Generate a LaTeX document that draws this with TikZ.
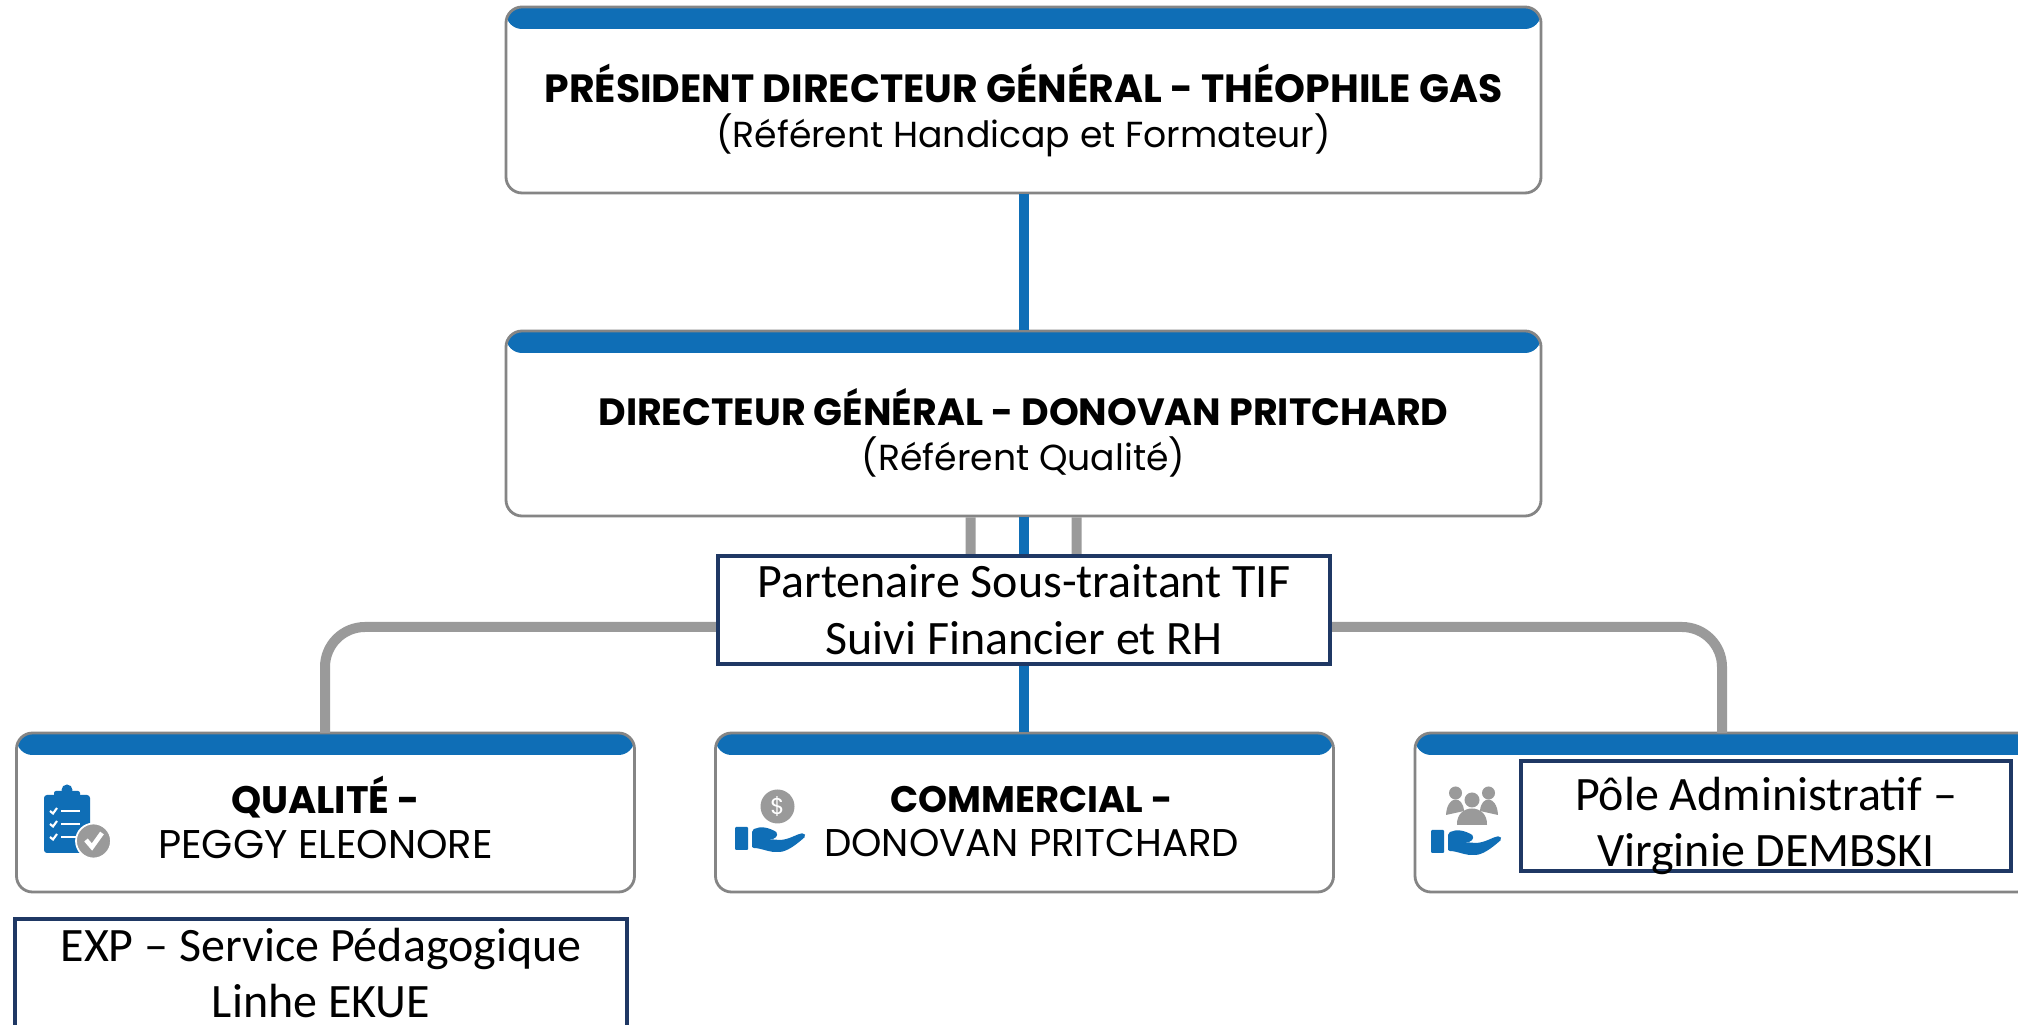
\documentclass[tikz,border=0pt]{standalone}
\usepackage{fontspec}
\setmainfont{Poppins}
\newfontfamily\notefont{Carlito}
\usepackage{xcolor}
\usetikzlibrary{calc}
\usetikzlibrary{positioning}
\definecolor{bandblue}{HTML}{0F6EB6}
\definecolor{railgray}{HTML}{9A9A9A}
\definecolor{edgegray}{HTML}{858585}
\definecolor{notenavy}{HTML}{1F3864}
\newcommand{\capsize}[1]{\fontsize{#1}{12.8pt}\selectfont}
\tikzset{
	card/.style={draw=edgegray,line width=0.8pt,fill=white,rounded corners=0.16cm,minimum width=#1,minimum height=1.59cm,inner sep=0,
		path picture={\fill[bandblue] (path picture bounding box.north west) rectangle ($(path picture bounding box.north east)+(0,-0.22)$);}},
	cardtext/.style={align=center,inner sep=0,font=\capsize{11.2pt},text=black},
	notetext/.style={inner sep=0,align=center,font=\notefont\fontsize{13.65pt}{16.2pt}\selectfont,text=black},
	note/.style={draw=notenavy,line width=1.3pt,fill=white,notetext},
	bluerail/.style={bandblue,line width=0.1cm},
	grayrail/.style={railgray,line width=0.1cm,rounded corners=0.4cm},
	handicon/.pic={
		\fill[bandblue,rounded corners=0.01cm] (0,0.02) rectangle (0.13,0.25);
		\fill[bandblue,rounded corners=0.02cm] (0.17,0.04) -- (0.17,0.22) .. controls (0.25,0.26) and (0.33,0.25) .. (0.43,0.19) -- (0.40,0.13) -- (0.32,0.13) -- (0.45,0.12) .. controls (0.55,0.13) and (0.62,0.18) .. (0.69,0.19) -- (0.71,0.16) .. controls (0.62,0.08) and (0.52,0) .. (0.42,0) .. controls (0.34,0) and (0.25,0.04) .. (0.17,0.04) -- cycle;
	},
	clipicon/.pic={
		\fill[bandblue,rounded corners=0.03cm] (0,0) rectangle (0.46,0.58);
		\fill[bandblue,rounded corners=0.02cm] (0.1,0.53) rectangle (0.36,0.62);
		\fill[bandblue] (0.23,0.63) circle(0.055);
		\foreach \y in {0.42,0.29,0.16}{
			\draw[white,line width=0.6pt] (0.06,\y) -- (0.09,\y-0.025) -- (0.13,\y+0.03);
			\draw[white,line width=0.8pt] (0.17,\y) -- (0.36,\y);
		}
		\fill[railgray,draw=white,line width=0.5pt] (0.495,0.12) circle(0.175);
		\draw[white,line width=1.3pt] (0.42,0.13) -- (0.48,0.06) -- (0.58,0.2);
	},
	coinicon/.pic={
		\fill[railgray] (0,0) circle(0.17);
		\node[inner sep=0,text=white,font=\fontsize{6.5pt}{7pt}\selectfont] (coinmark) at (0,0) {\$};
	},
	peopleicon/.pic={
		\foreach \x/\y/\r in {-0.165/0.32/0.065,0.165/0.32/0.065,0/0.25/0.075}{
			\fill[railgray] (\x,\y) circle(\r);
		}
		\fill[railgray] (-0.26,0.1) .. controls (-0.25,0.3) and (-0.09,0.3) .. (-0.08,0.14) -- cycle;
		\fill[railgray] (0.26,0.1) .. controls (0.25,0.3) and (0.09,0.3) .. (0.08,0.14) -- cycle;
		\fill[railgray] (-0.15,0) .. controls (-0.16,0.22) and (0.16,0.22) .. (0.15,0) -- cycle;
	},
}
\begin{document}
\begin{tikzpicture}
\useasboundingbox (0,0) rectangle (20.18,10.25);
\clip (0,0) rectangle (20.18,10.25);
\fill[white] (0,0) rectangle (20.18,10.25);
\node[card=10.35cm,minimum height=1.86cm] (pdg) at (10.235,9.25) {};
\node[card=10.35cm,minimum height=1.85cm] (dg) at (10.235,6.015) {};
\node[card=6.18cm] (qualite) at (3.255,2.125) {};
\node[card=6.18cm] (commercial) at (10.245,2.125) {};
\node[card=6.18cm] (admin) at (17.24,2.125) {};
\coordinate (rail) at (0,3.98);
\coordinate (stubL) at ($(dg.south)+(-0.53,0)$);
\coordinate (stubR) at ($(dg.south)+(0.53,0)$);
\coordinate (dropL) at (3.25,2.92);
\coordinate (dropR) at (17.22,2.92);
\draw[bluerail] (pdg.south) -- (dg.north);
\draw[bluerail] (dg.south) -- (dg.south |- commercial.north);
\draw[grayrail] (stubL) -- (stubL |- rail) -- (rail -| dropL) -- (dropL);
\draw[grayrail] (stubR) -- (stubR |- rail) -- (rail -| dropR) -- (dropR);
\node[cardtext] (pdgtext) at ($(pdg.center)+(0,-0.11)$) {\textbf{PRÉSIDENT DIRECTEUR GÉNÉRAL - THÉOPHILE GAS}\\\capsize{10.3pt}(Référent Handicap et Formateur)};
\node[cardtext] (dgtext) at ($(dg.center)+(0,-0.09)$) {\capsize{10.8pt}\textbf{DIRECTEUR GÉNÉRAL - DONOVAN PRITCHARD}\\\capsize{10.3pt}(Référent Qualité)};
\node[cardtext] (qualitetext) at ($(qualite.center)+(0,-0.05)$) {\capsize{10.9pt}\textbf{QUALITÉ -}\\\capsize{11.4pt}PEGGY ELEONORE};
\node[cardtext] (commercialtext) at ($(commercial.center)+(0.07,-0.09)$) {\capsize{10.5pt}\textbf{COMMERCIAL -}\\\capsize{11pt}DONOVAN PRITCHARD};
\pic at (0.44,1.72) {clipicon};
\pic at (7.35,1.73) {handicon};
\pic at (7.775,2.185) {coinicon};
\pic at (14.31,1.70) {handicon};
\pic at (14.72,2.0) {peopleicon};
\node[note,minimum width=6.12cm,minimum height=1.08cm] (partenaire) at (10.24,4.15) {Partenaire Sous-traitant TIF\\Suivi Financier et RH};
\node[note,minimum width=4.9cm,minimum height=1.1cm] (pole) at (17.66,2.09) {};
\node[notetext] (poletext) at (17.66,1.99) {Pôle Administratif –\\Virginie DEMBSKI};
\node[note,minimum width=6.12cm,minimum height=1.08cm] (exp) at (3.21,0.52) {EXP – Service Pédagogique\\Linhe EKUE};
\end{tikzpicture}
\end{document}
